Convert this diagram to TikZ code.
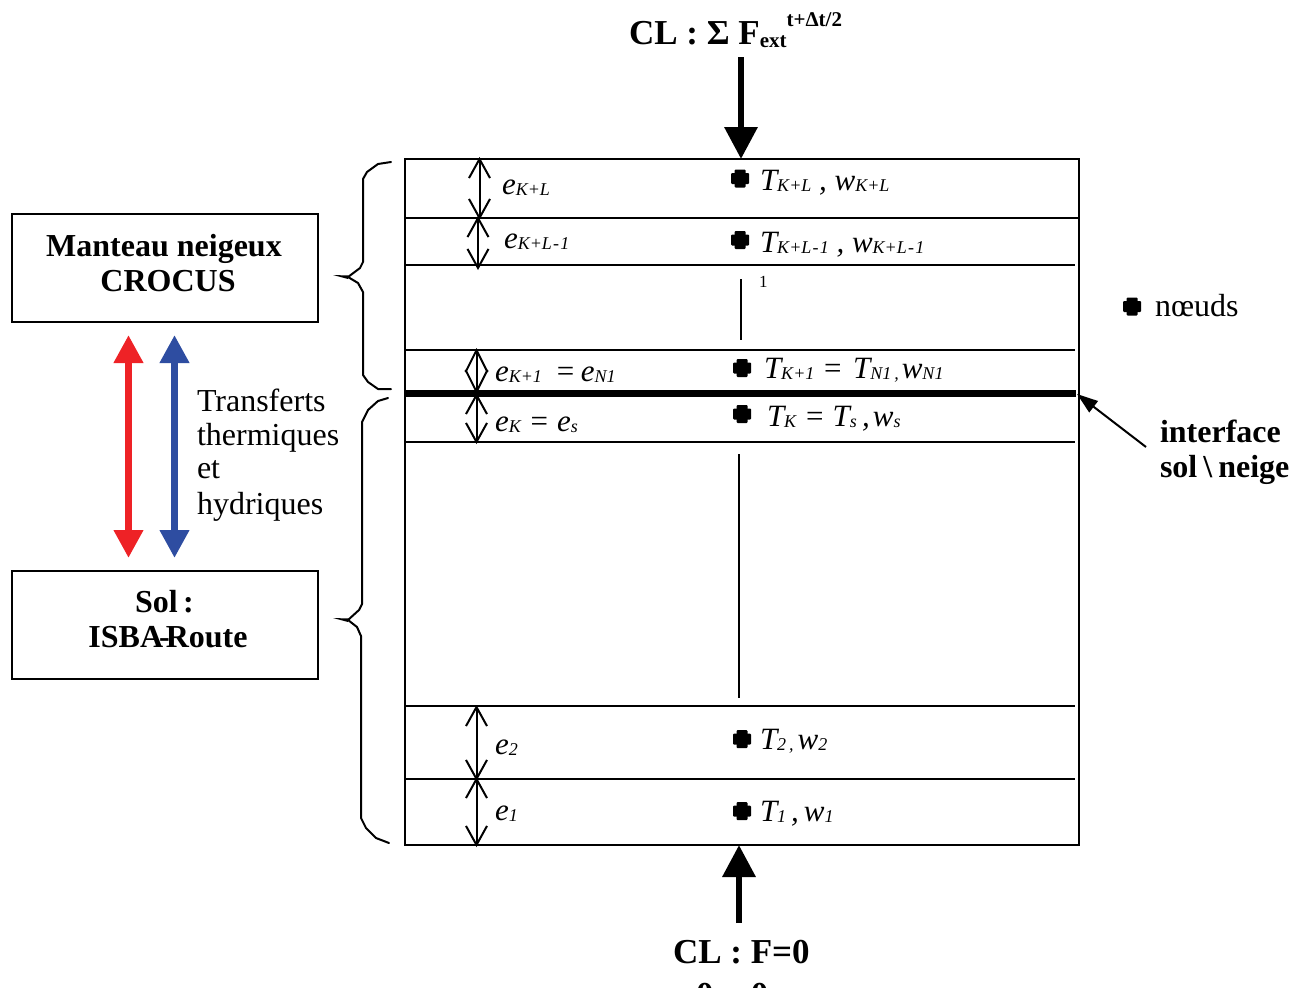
\documentclass[tikz,border=0pt]{standalone}
\usepackage{fontspec}
\setmainfont{Liberation Serif}
\usetikzlibrary{arrows.meta,shapes.geometric}
\newcommand{\fs}[1]{\fontsize{#1}{#1}\selectfont}
\newcommand{\sy}[2]{{\itshape\fs{31}#1\fs{18}\raisebox{-1pt}{#2}}}
\newcommand{\rest}[1]{{\itshape\fs{31}#1}}
\newcommand{\hy}{\kern1.2pt-\kern1.2pt}
\tikzset{
  x=1pt,y=-1pt,
  outer sep=0pt,
  rule/.style={line width=2pt,black},
  dim/.style={line width=2pt,shorten <=-2pt,shorten >=-2pt,{Straight Barb[length=19pt,width=21pt,line width=2pt]}-{Straight Barb[length=19pt,width=21pt,line width=2pt]}},
  dimlong/.style={line width=2pt,shorten <=-2pt,shorten >=-2pt,{Straight Barb[length=22pt,width=22pt,line width=2pt]}-{Straight Barb[length=22pt,width=22pt,line width=2pt]}},
  bigarrow/.style={line width=6.5pt,-{Triangle[length=32pt,width=32pt]}},
  dblarrow/.style={line width=7pt,{Triangle[length=28pt,width=28pt]}-{Triangle[length=28pt,width=28pt]}},
  lab/.style={anchor=base west,inner sep=0pt,outer sep=0pt},
  dotnode/.style={rectangle,fill=black,inner sep=0pt,minimum width=18pt,minimum height=11pt,rounded corners=1pt,
    label={[rectangle,fill=black,inner sep=0pt,minimum width=11pt,minimum height=18pt,rounded corners=1pt]center:{}}},
  modbox/.style={draw,line width=2pt,minimum width=306pt,minimum height=108pt,inner sep=0pt,align=center,font=\bfseries\fs{32}},
  brace/.style={line width=2pt,line join=round,line cap=round},
  txt/.style={lab,font=\fs{32}},
  btxt/.style={lab,font=\bfseries\fs{32}}
}
\definecolor{myred}{RGB}{238,34,38}
\definecolor{myblue}{RGB}{46,77,161}
\begin{document}
\begin{tikzpicture}
\useasboundingbox (0,0) rectangle (1304,988);
\clip (0,0) rectangle (1304,988);
% column frame
\node[draw,line width=2pt,minimum width=674pt,minimum height=686pt,inner sep=0pt,anchor=north west] (frame) at (405,159) {};
% coordinates
\coordinate (l1a) at (405,218); \coordinate (l1b) at (1079,218);
\coordinate (l2a) at (405,265); \coordinate (l2b) at (1075,265);
\coordinate (l3a) at (405,350); \coordinate (l3b) at (1075,350);
\coordinate (ia) at (405,393.5); \coordinate (ib) at (1076,393.5);
\coordinate (l4a) at (405,442); \coordinate (l4b) at (1075,442);
\coordinate (l5a) at (405,706); \coordinate (l5b) at (1075,706);
\coordinate (l6a) at (405,779); \coordinate (l6b) at (1075,779);
\draw[rule] (l1a)--(l1b);
\draw[rule] (l2a)--(l2b);
\draw[rule] (l3a)--(l3b);
\draw[line width=6.5pt] (ia)--(ib);
\draw[rule] (l4a)--(l4b);
\draw[rule] (l5a)--(l5b);
\draw[rule] (l6a)--(l6b);
% vertical ellipsis bars
\coordinate (v1a) at (741,279); \coordinate (v1b) at (741,340);
\coordinate (v2a) at (739,454); \coordinate (v2b) at (739,698);
\draw[line width=2pt] (v1a)--(v1b);
\draw[line width=2pt] (v2a)--(v2b);
\node[lab,font=\fs{17}] (one) at (759,287) {1};
% thickness arrows
\coordinate (d1a) at (479.5,159); \coordinate (d1b) at (479.5,218);
\coordinate (d2a) at (478,218); \coordinate (d2b) at (478,268);
\coordinate (d3a) at (476.5,350); \coordinate (d3b) at (476.5,392);
\coordinate (d4a) at (476.5,395); \coordinate (d4b) at (476.5,442);
\coordinate (d5a) at (476.5,707); \coordinate (d5b) at (476.5,779);
\coordinate (d6a) at (476.5,779); \coordinate (d6b) at (476.5,845);
\draw[dim] (d1a)--(d1b);
\draw[dim] (d2a)--(d2b);
\draw[dimlong] (d3a)--(d3b);
\draw[dim] (d4a)--(d4b);
\draw[dim] (d5a)--(d5b);
\draw[dim] (d6a)--(d6b);
% e labels
\node[lab] (e1) at (502,194) {\sy{e}{K+L}};
\node[lab] (e2) at (504,248) {\sy{e}{K+L\hy1}};
\node[lab] (e3) at (495,381) {\sy{e}{K+1}\rest{\ \,=\kern5pt e}\sy{}{N1}};
\node[lab] (e4) at (495,431) {\sy{e}{K}\rest{\ =\ e}\sy{}{s}};
\node[lab] (e5) at (495,754) {\sy{e}{2}};
\node[lab] (e6) at (495,820) {\sy{e}{1}};
% dots and T labels
\node[dotnode] (n1) at (740,178.5) {};
\node[dotnode] (n2) at (740,240) {};
\node[dotnode] (n3) at (742,368) {};
\node[dotnode] (n4) at (742,414) {};
\node[dotnode] (n5) at (742,739) {};
\node[dotnode] (n6) at (742,811) {};
\node[lab] (t1) at (760,190) {\sy{T}{K+L}\rest{\ , }\sy{w}{K+L}};
\node[lab] (t2) at (760,252) {\sy{T}{K+L\hy1}\rest{\ , }\sy{w}{K+L\hy1}};
\node[lab] (t3) at (764,378) {\sy{T}{K+1}\rest{\ =\kern10pt T}\sy{}{N1\,,\,}\sy{w}{N1}};
\node[lab] (t4) at (767,426) {\sy{T}{K}\rest{\ =\ T}\sy{}{s}\rest{\,,\kern3pt}\sy{w}{s}};
\node[lab] (t5) at (760,749) {\sy{T}{2\,,\kern4pt}\sy{w}{2}};
\node[lab] (t6) at (760,821) {\sy{T}{1}\rest{\kern5pt,\kern5pt}\sy{w}{1}};
% top and bottom arrows
\node[lab,font=\bfseries\fs{35}] (cltop) at (629,44) {CL : Σ F{\fs{21}\raisebox{-3pt}{ext}}{\fs{21}\raisebox{18pt}{t+Δt/2}}};
\coordinate (topstart) at (741,57); \coordinate (topend) at (741,159);
\draw[bigarrow] (topstart)--(topend);
\coordinate (botstart) at (739,923); \coordinate (botend) at (739,845);
\draw[bigarrow] (botstart)--(botend);
\node[lab,font=\bfseries\fs{35}] (clbot) at (673,963) {CL : F=0};
\node[lab,font=\bfseries\fs{35}] (clbot2) at (696,1006) {0 = 0};
% legend
\node[dotnode] (legdot) at (1132,306.5) {};
\node[txt] (legtxt) at (1155,316) {nœuds};
% interface
\node[btxt] (if1) at (1160,442) {interface};
\node[btxt] (if2) at (1160,477) {sol\kern6pt\textbackslash\kern6pt neige};
\coordinate (ifstart) at (1146,447); \coordinate (ifend) at (1077,394);
\draw[line width=2pt,-{Triangle[length=21pt,width=14pt]}] (ifstart)--(ifend);
% model boxes
\node[modbox,anchor=north west] (snow) at (12,214) {};
\node[lab,anchor=base,font=\bfseries\fs{32}] (snow1) at (164,256) {Manteau neigeux};
\node[lab,anchor=base,font=\bfseries\fs{32}] (snow2) at (168,291) {CROCUS};
\node[modbox,anchor=north west] (soil) at (12,571) {};
\node[lab,anchor=base,font=\bfseries\fs{32}] (soil1) at (164.5,612) {Sol\,:};
\node[lab,anchor=base,font=\bfseries\fs{32}] (soil2) at (168,647) {ISBA\kern-4pt-\kern-4pt Route};
% exchange arrows
\coordinate (ra) at (128.5,335); \coordinate (rb) at (128.5,558);
\coordinate (ba) at (174.5,335); \coordinate (bb) at (174.5,558);
\draw[dblarrow,myred] (ra)--(rb);
\draw[dblarrow,myblue] (ba)--(bb);
\node[txt] (tr1) at (197,411) {Transferts};
\node[txt] (tr2) at (197,445) {thermiques};
\node[txt] (tr3) at (197,478) {et};
\node[txt] (tr4) at (197,514) {hydriques};
% braces
\draw[brace] (391,162)--(378,164)--(367,172)--(363,179)--(363,262)--(360,268)--(348,277)--(358,283)--(363,292)--(363,375)--(368,382)--(378,389)--(391,389);
\fill (333,275)--(348,275.5)--(348,279)--cycle;
\draw[brace] (388,398)--(378,401)--(368,410)--(362,422)--(362,604)--(359,610)--(348,620)--(357,627)--(361,636)--(361,818)--(366,828)--(376,838)--(389,843);
\fill (333,618)--(348,618.5)--(348,622)--cycle;
\end{tikzpicture}
\end{document}
